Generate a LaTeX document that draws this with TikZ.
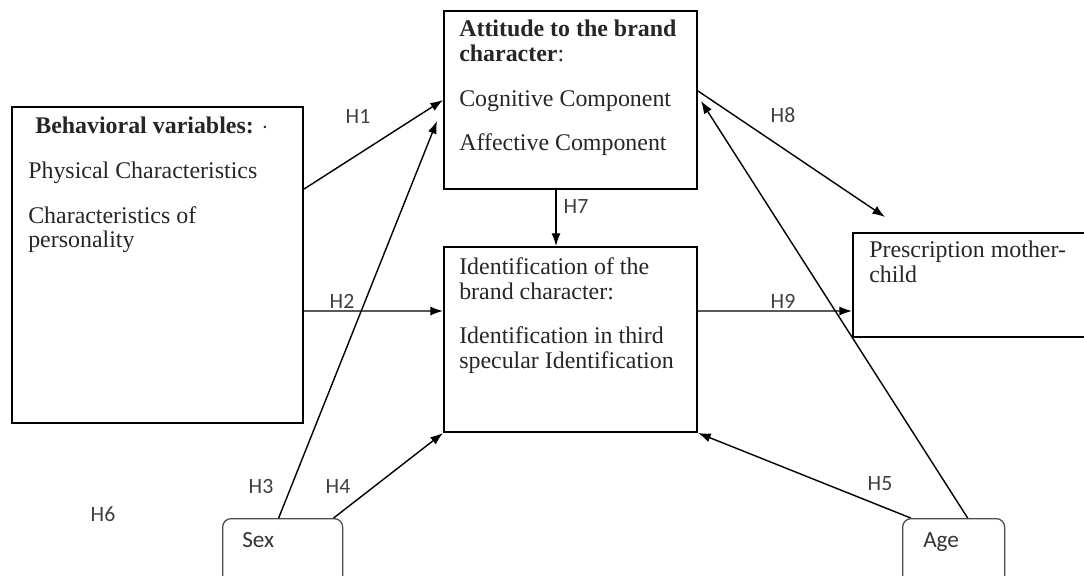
\documentclass[tikz,border=0pt]{standalone}
\usepackage{fontspec}
\setmainfont{Liberation Serif}
\newfontfamily\hfont{Carlito}
\usetikzlibrary{positioning,calc,arrows.meta}
\tikzset{
  block/.style = {rectangle, draw, line width=1.4pt, anchor=north west, inner sep=0pt},
  ctrl/.style  = {rectangle, draw=black!70, line width=0.9pt, rounded corners=6pt, anchor=north west, inner sep=0pt, minimum height=2cm},
  txt/.style   = {anchor=north west, inner sep=0pt, align=left, text=black!85, font=\fontsize{17}{17.7}\selectfont},
  ctxt/.style  = {anchor=north west, inner sep=0pt, text=black!80, font=\hfont\fontsize{16.5}{16.5}\selectfont},
  arc/.style   = {-{Latex[length=9pt,width=6.5pt]}, line width=1pt},
  hyp/.style   = {inner sep=0pt, text=black!75, font=\hfont\fontsize{15.5}{15.5}\selectfont}
}

\begin{document}
\begin{tikzpicture}[x=0.025cm, y=-0.025cm]
  \useasboundingbox (0,0) rectangle (1084,576);
  % constructs
  \node[block, minimum width=7.275cm, minimum height=7.9cm]  (beh) at (11,106) {};
  \node[block, minimum width=6.325cm, minimum height=4.45cm]  (att) at (443,10) {};
  \node[block, minimum width=6.325cm, minimum height=4.625cm] (idn) at (443,246) {};
  \node[block, minimum width=6.2cm,   minimum height=2.6cm]   (pre) at (852,232) {};
  \node[ctrl, minimum width=3cm]    (sex) at (222,518) {};
  \node[ctrl, minimum width=2.55cm] (age) at (902,518) {};

  \node[txt] (behT) at ($(beh.north west)+(17,11)$) {\hspace*{5pt}\textbf{Behavioral variables:} $\cdot$\\[14pt] Physical Characteristics\\[14pt] Characteristics of\\ personality};
  \node[txt] (attT) at ($(att.north west)+(16,10)$) {\textbf{Attitude to the brand}\\ \textbf{character}:\\[14pt] Cognitive Component\\[14pt] Affective Component};
  \node[txt] (idnT) at ($(idn.north west)+(16,11)$) {Identification of the\\ brand character:\\[14pt] Identification in third\\ specular Identification};
  \node[txt] (preT) at ($(pre.north west)+(17,9)$) {Prescription mother-\\ child};
  \node[ctxt] (sexT) at ($(sex.north west)+(20,14)$) {Sex};
  \node[ctxt] (ageT) at ($(age.north west)+(21,14)$) {Age};

  % hypotheses
  \draw[arc] ($(beh.east)+(0,-76)$) -- (att.west);
  \draw[arc] ($(beh.east)+(0,46)$) -- ($(idn.west)+(0,-28.5)$);
  \draw[arc] ($(sex.north)+(-4,0)$) -- ($(att.west)+(-6,21)$);
  \draw[arc] ($(sex.north)+(51,0)$) -- (idn.south west);
  \draw[arc] ($(att.south)+(-14.5,0)$) -- ($(idn.north)+(-14.5,0)$);
  \coordinate (h8end) at (885,217);
  \draw[arc] ($(att.east)+(0,-9)$) -- (h8end);
  \draw[arc] ($(age.north)+(14,0)$) -- ($(att.east)+(3,1)$);
  \draw[arc] ($(age.north)+(-43,0)$) -- (idn.south east);
  \draw[arc] ($(idn.east)+(0,-28.5)$) -- ($(pre.west)+(0,26)$);

  \node[hyp] (h1) at (358,116) {H1};
  \node[hyp] (h2) at (342,301) {H2};
  \node[hyp] (h3) at (261,487) {H3};
  \node[hyp] (h4) at (338,487) {H4};
  \node[hyp] (h5) at (880,484) {H5};
  \node[hyp] (h6) at (103,514) {H6};
  \node[hyp] (h7) at (576,207) {H7};
  \node[hyp] (h8) at (783,115) {H8};
  \node[hyp] (h9) at (783,301) {H9};
\end{tikzpicture}
\end{document}
